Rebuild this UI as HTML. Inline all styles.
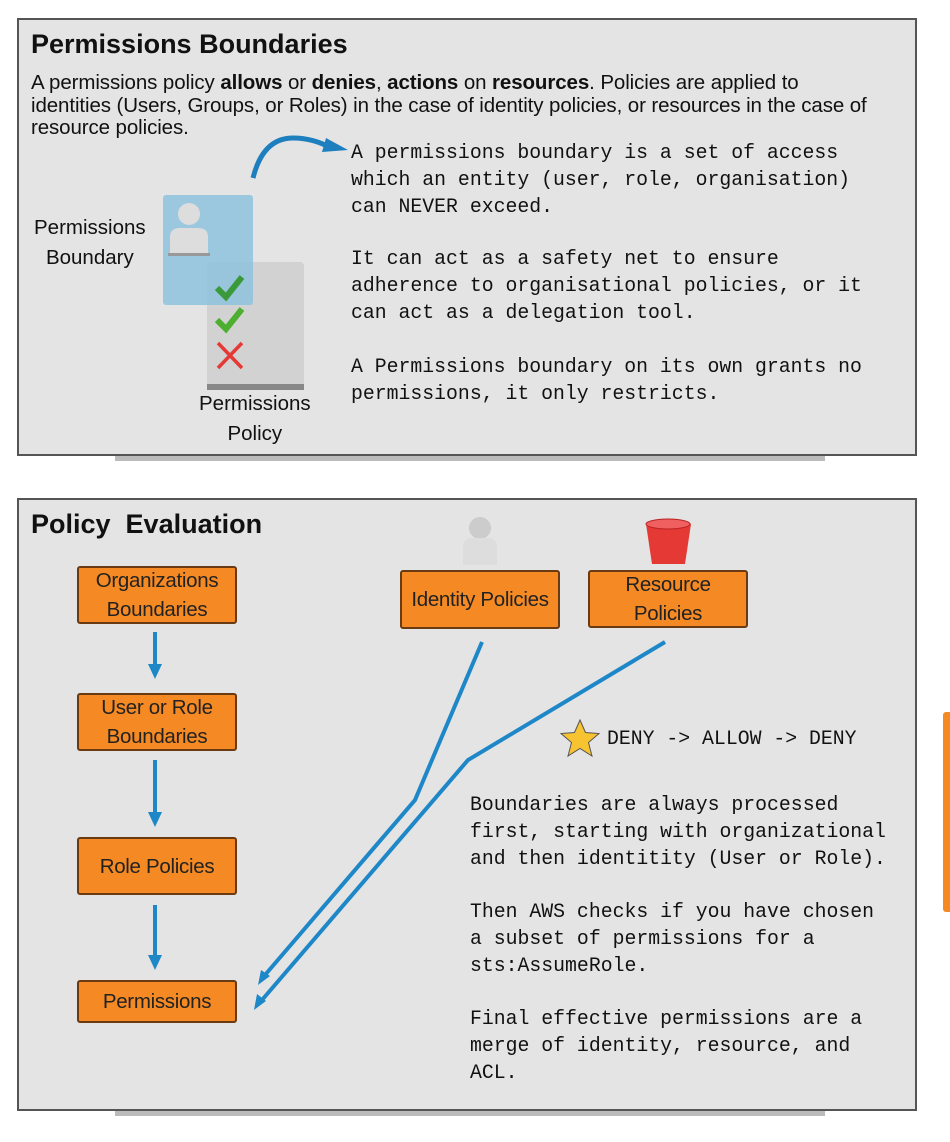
<!DOCTYPE html>
<html><head><meta charset="utf-8"><style>
body{margin:0;width:950px;height:1142px;background:#fff;position:relative;overflow:hidden;font-family:"Liberation Sans",sans-serif}
.panel{position:absolute;left:17px;width:900px;background:#e4e4e4;border:2px solid #555;box-sizing:border-box}
.sh{position:absolute;left:115px;width:710px;height:5px;background:#bbb}
.t{position:absolute;white-space:nowrap;color:#111}
.mono{font-family:"Liberation Mono",monospace;font-size:20px;line-height:26.8px;transform:scaleX(0.99);transform-origin:left}
.box{position:absolute;background:#f58a24;border:2px solid #6a3b12;border-radius:3px;box-sizing:border-box;display:flex;align-items:center;justify-content:center;text-align:center;font-size:20.5px;line-height:29px;color:#222;letter-spacing:-0.3px}
</style></head><body>
<div class="panel" style="top:18px;height:438px"></div>
<div class="sh" style="top:456px"></div>
<div class="panel" style="top:498px;height:613px"></div>
<div class="sh" style="top:1111px"></div>
<div style="position:absolute;left:943px;top:712px;width:7px;height:200px;background:#f58a24;border-radius:3px 0 0 3px"></div>

<div class="t" style="left:31px;top:29px;font-size:27px;font-weight:bold">Permissions Boundaries</div>
<div class="t" style="left:31px;top:72px;font-size:20.5px;line-height:22.5px;letter-spacing:-0.1px">A permissions policy <b>allows</b> or <b>denies</b>, <b>actions</b> on <b>resources</b>. Policies are applied to<br>identities (Users, Groups, or Roles) in the case of identity policies, or resources in the case of<br>resource policies.</div>

<div class="t" style="left:34px;top:213px;font-size:20.5px;line-height:30px;text-align:center">Permissions<br>Boundary</div>
<div class="t" style="left:199px;top:389px;font-size:20.5px;line-height:30px;text-align:center">Permissions<br>Policy</div>

<svg style="position:absolute;left:0;top:0" width="950" height="1142">
  <rect x="207" y="262" width="97" height="128" rx="4" fill="#d2d2d2"/>
  <rect x="207" y="384" width="97" height="6" fill="#888"/>
  <rect x="163" y="195" width="90" height="110" rx="3" fill="#8ec3dd" opacity="0.85"/>
  <circle cx="189" cy="214" r="11" fill="#ddd"/>
  <path d="M170 255 v-18 q0-9 10-9 h18 q10 0 10 9 v18z" fill="#ddd"/>
  <rect x="168" y="253" width="42" height="3" fill="#999"/>
  <path d="M217 288 l9 9 l16 -20" stroke="#3a9a3a" stroke-width="6" fill="none"/>
  <path d="M217 320 l9 9 l16 -20" stroke="#4caf2f" stroke-width="6" fill="none"/>
  <path d="M218 343 l24 25 M242 343 l-24 25" stroke="#e53935" stroke-width="3.5"/>
  <path d="M253 178 q10 -40 40 -40 q20 0 38 10" stroke="#1e7fbf" stroke-width="5" fill="none"/>
  <path d="M348 150 l-22 -12 l-4 14z" fill="#1e7fbf"/>

  <g stroke="#1e87c8" stroke-width="4" fill="none">
    <line x1="155" y1="632" x2="155" y2="668"/>
    <line x1="155" y1="760" x2="155" y2="816"/>
    <line x1="155" y1="905" x2="155" y2="958"/>
    <polyline points="482,642 415,800 265,975"/>
    <polyline points="665,642 468,760 262,1000"/>
  </g>
  <g fill="#1e87c8">
    <path d="M148 664 l7 15 l7 -15z"/>
    <path d="M148 812 l7 15 l7 -15z"/>
    <path d="M148 955 l7 15 l7 -15z"/>
    <path d="M258 985 l3 -15 l9 6z"/>
    <path d="M254 1010 l3 -16 l9 7z"/>
  </g>
  <circle cx="480" cy="528" r="11" fill="#ccc"/>
  <path d="M463 565 v-18 q0-9 10-9 h14 q10 0 10 9 v18z" fill="#ddd"/>
  <path d="M646 524 h45 l-6 40 h-33z" fill="#e53935"/>
  <ellipse cx="668" cy="524" rx="22" ry="5" fill="#f06060" stroke="#b22" stroke-width="1"/>
  <path d="M580 720 l5.5 12.5 l13.5 1 l-10.5 9 l3.5 13.5 l-12 -7.5 l-12 7.5 l3.5 -13.5 l-10.5 -9 l13.5 -1z" fill="#f7c331" stroke="#555" stroke-width="1"/>
</svg>

<div class="t mono" style="left:351px;top:141px">A permissions boundary is a set of access<br>which an entity (user, role, organisation)<br>can NEVER exceed.</div>
<div class="t mono" style="left:351px;top:247px">It can act as a safety net to ensure<br>adherence to organisational policies, or it<br>can act as a delegation tool.</div>
<div class="t mono" style="left:351px;top:355px">A Permissions boundary on its own grants no<br>permissions, it only restricts.</div>

<div class="t" style="left:31px;top:509px;font-size:27px;font-weight:bold">Policy&nbsp; Evaluation</div>
<div class="box" style="left:77px;top:566px;width:160px;height:58px">Organizations<br>Boundaries</div>
<div class="box" style="left:77px;top:693px;width:160px;height:58px">User or Role<br>Boundaries</div>
<div class="box" style="left:77px;top:837px;width:160px;height:58px">Role Policies</div>
<div class="box" style="left:77px;top:980px;width:160px;height:43px">Permissions</div>
<div class="box" style="left:400px;top:570px;width:160px;height:59px">Identity Policies</div>
<div class="box" style="left:588px;top:570px;width:160px;height:58px">Resource<br>Policies</div>

<div class="t mono" style="left:607px;top:727px">DENY -&gt; ALLOW -&gt; DENY</div>
<div class="t mono" style="left:470px;top:793px">Boundaries are always processed<br>first, starting with organizational<br>and then identitity (User or Role).</div>
<div class="t mono" style="left:470px;top:900px">Then AWS checks if you have chosen<br>a subset of permissions for a<br>sts:AssumeRole.</div>
<div class="t mono" style="left:470px;top:1007px">Final effective permissions are a<br>merge of identity, resource, and<br>ACL.</div>
</body></html>
